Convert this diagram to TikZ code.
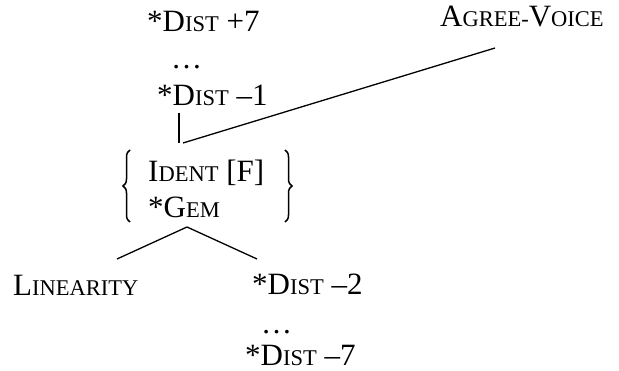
\documentclass[tikz,border=0pt]{standalone}
\usepackage{fontspec}
\setmainfont{Liberation Serif}
\usetikzlibrary{decorations.pathreplacing}
% faked small capitals: full-size initial, reduced capitals after it
\newcommand\fsc[2]{#1{\fontsize{22.5}{22.5}\selectfont #2}}
\begin{document}
\begin{tikzpicture}[x=1pt,y=-1pt,
  lbl/.style={anchor=base west,inner sep=0pt,font=\fontsize{31}{31}\selectfont},
  link/.style={line width=1.3pt},
  curly/.style={line width=1.5pt,decorate,decoration={brace,amplitude=7pt,aspect=0.5}}]
\useasboundingbox (0,0) rectangle (619,371);

% upper ranking
\node[lbl] (dtop)  at (147,32)  {*\fsc{D}{IST} +7};
\node[lbl] (dots1) at (171,69)  {…};
\node[lbl] (done)  at (157,106) {*\fsc{D}{IST} –1};
\node[lbl] (agree) at (440,27)  {\fsc{A}{GREE-}\fsc{V}{OICE}};

% tied constraints
\node[lbl] (ident) at (148,182) {\fsc{I}{DENT} [F]};
\node[lbl] (gem)   at (148,218) {*\fsc{G}{EM}};
\draw[curly] (130,222) -- (130,150);
\draw[curly] (285,150) -- (285,222);

% lower ranking
\node[lbl] (lin)   at (13,296)  {\fsc{L}{INEARITY}};
\node[lbl] (dtwo)  at (252,295) {*\fsc{D}{IST} –2};
\node[lbl] (dots2) at (261,334) {…};
\node[lbl] (dsev)  at (245,366) {*\fsc{D}{IST} –7};

% connector end points
\coordinate (vtop) at (179,113);
\coordinate (vbot) at (179,143);
\coordinate (dstart) at (183,143);
\coordinate (dend) at (495,48);
\coordinate (apex) at (187,227);
\coordinate (lleft) at (117,259);
\coordinate (lright) at (257,259);

\draw[link] (vtop) -- (vbot);
\draw[link] (dstart) -- (dend);
\draw[link] (lleft) -- (apex) -- (lright);
\end{tikzpicture}
\end{document}
